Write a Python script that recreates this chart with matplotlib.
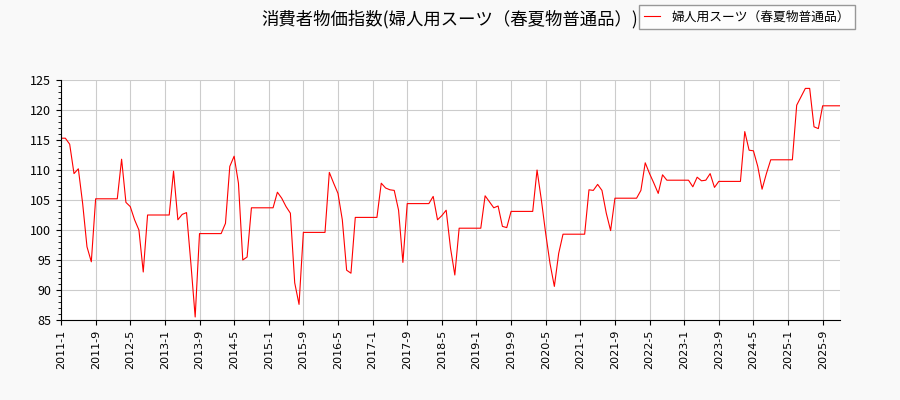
import matplotlib
matplotlib.use("Agg")
import matplotlib.pyplot as plt
from matplotlib.ticker import MultipleLocator
import pandas as pd

plt.rcParams["font.family"] = ["Noto Sans CJK JP", "DejaVu Sans"]

# monthly index values, 2011-1 .. 2026-1
values = [
    115.3, 115.3, 114.3, 109.4, 110.2, 104.4, 97.2, 94.7,
    105.2, 105.2, 105.2, 105.2, 105.2, 105.2,
    111.8, 104.6, 103.9, 101.7, 100.0, 93.0,
    102.5, 102.5, 102.5, 102.5, 102.5, 102.5,
    109.8, 101.7, 102.6, 102.9, 94.5, 85.5,
    99.4, 99.4, 99.4, 99.4, 99.4, 99.4,
    101.1, 110.6, 112.3, 107.8, 95.0, 95.5,
    103.7, 103.7, 103.7, 103.7, 103.7, 103.7,
    106.3, 105.3, 103.9, 102.8, 91.2, 87.6,
    99.6, 99.6, 99.6, 99.6, 99.6, 99.6,
    109.6, 107.8, 106.1, 101.7, 93.3, 92.8,
    102.1, 102.1, 102.1, 102.1, 102.1, 102.1,
    107.8, 107.0, 106.7, 106.6, 103.3, 94.6,
    104.4, 104.4, 104.4, 104.4, 104.4, 104.4,
    105.6, 101.7, 102.4, 103.3, 97.0, 92.5,
    100.3, 100.3, 100.3, 100.3, 100.3, 100.3,
    105.7, 104.7, 103.7, 104.0, 100.6, 100.4,
    103.1, 103.1, 103.1, 103.1, 103.1, 103.1,
    110.0, 105.0, 99.4, 94.4, 90.6, 96.1,
    99.3, 99.3, 99.3, 99.3, 99.3, 99.3,
    106.7, 106.6, 107.6, 106.6, 102.8, 99.9,
    105.3, 105.3, 105.3, 105.3, 105.3, 105.3,
    106.6, 111.2, 109.4, 107.8, 106.1, 109.2,
    108.3, 108.3, 108.3, 108.3, 108.3, 108.3,
    107.2, 108.8, 108.2, 108.3, 109.4, 107.1,
    108.1, 108.1, 108.1, 108.1, 108.1, 108.1,
    116.4, 113.3, 113.2, 110.6, 106.8, 109.4,
    111.7, 111.7, 111.7, 111.7, 111.7, 111.7,
    120.8, 122.2, 123.6, 123.6, 117.2, 116.9,
    120.7, 120.7, 120.7, 120.7, 120.7,
]
dates = pd.date_range("2011-01-01", periods=len(values), freq="MS")
labels = [f"{d.year}-{d.month}" for d in dates]

title = "消費者物価指数(婦人用スーツ（春夏物普通品）)"
series_name = "婦人用スーツ（春夏物普通品）"

fig = plt.figure(figsize=(9, 4), dpi=100, facecolor="#f9f9f9")
ax = fig.add_axes([0.0678, 0.2, 0.8655, 0.6])
ax.set_facecolor("white")

x = list(range(len(values)))
line, = ax.plot(x, values, color="red", linewidth=0.8)

ax.set_xlim(0, len(values) - 1)
ax.set_ylim(85, 125)
ax.set_xticks(x[::8])
ax.set_xticklabels(labels[::8], rotation=90, fontsize=8, family="DejaVu Sans")
ax.yaxis.set_major_locator(MultipleLocator(5))
ax.yaxis.set_minor_locator(MultipleLocator(1))
ax.tick_params(axis="y", labelsize=9)
ax.grid(True, color="#cccccc", linewidth=0.8)
ax.set_axisbelow(True)
for s in ["top", "right"]:
    ax.spines[s].set_visible(False)

fig.text(0.5, 0.953, title, ha="center", va="center", fontsize=12.5)
fig.legend([line], [series_name], loc="upper right", bbox_to_anchor=(0.95, 0.987),
           fontsize=9.2, frameon=True, fancybox=False, edgecolor="#808080",
           handlelength=1.2, handletextpad=0.9, borderpad=0.42, borderaxespad=0.0)

fig.savefig("out.png", dpi=100, facecolor=fig.get_facecolor())
